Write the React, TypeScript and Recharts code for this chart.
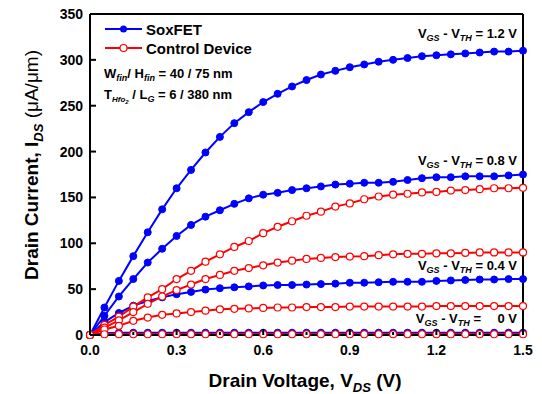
import React from "react";
import { LineChart, Line, XAxis, YAxis, ReferenceLine } from "recharts";

// drain voltage steps (V)
const vds = [
  0, 0.05, 0.1, 0.15, 0.2, 0.25, 0.3, 0.35, 0.4, 0.45, 0.5, 0.55, 0.6, 0.65, 0.7, 0.75,
  0.8, 0.85, 0.9, 0.95, 1.0, 1.05, 1.1, 1.15, 1.2, 1.25, 1.3, 1.35, 1.4, 1.45, 1.5,
];

// SoxFET drain current (uA/um)
const sox12 = [0, 30, 59, 86, 112, 137, 160, 180, 199, 216, 231, 243, 254, 263, 271, 278, 284, 288, 292, 295, 298, 300, 302, 304, 305, 306, 307, 308, 309, 309, 310];
const sox08 = [0, 21, 42, 61, 79, 94, 108, 120, 129, 136, 143, 149, 153, 155, 158, 160, 162, 164, 165, 166, 166, 167, 169, 171, 172, 172, 173, 173, 173, 174, 175];
const sox04 = [0, 14, 24, 32, 37, 41, 44.5, 47, 49.5, 51, 52, 53, 54, 54.5, 54.5, 55, 55.5, 56, 57, 57, 57.5, 58, 58, 58, 59, 59.5, 60, 60.5, 60.5, 61, 61];
const sox00 = [0, 2, 2.5, 2.5, 2.5, 2.5, 2.5, 2.5, 2.5, 2.5, 2.5, 2.5, 2.5, 2.5, 2.5, 2.5, 2.5, 2.5, 2.5, 2.5, 2.5, 2.5, 2.5, 2.5, 2.5, 2.5, 2.5, 2.5, 2.5, 2.5, 2.5];

// control device drain current (uA/um)
const ctl12 = [0, 11, 20, 31, 41, 50, 61, 70, 80, 88, 96, 102.5, 111, 118, 124, 130, 134.5, 140, 143.5, 148, 151, 153, 154, 155.5, 156, 157.5, 158, 159, 160, 160, 160.5];
const ctl08 = [0, 8, 16, 25, 34, 42, 49, 55, 61, 65.5, 70, 73, 76, 79, 81, 83, 84, 85, 85.5, 86, 87, 88, 88.5, 88.5, 89, 89, 89.5, 90, 90, 90, 90];
const ctl04 = [0, 6, 10, 15.5, 19, 22, 23.5, 25, 26.5, 28, 28.5, 29, 29.5, 30, 30, 30.5, 30.5, 30.5, 31, 31, 31, 31, 31, 31, 31.5, 31.5, 31.5, 31.5, 31.5, 31.5, 31.5];
const ctl00 = [0, 0.8, 0.8, 0.8, 0.8, 0.8, 0.8, 0.8, 0.8, 0.8, 0.8, 0.8, 0.8, 0.8, 0.8, 0.8, 0.8, 0.8, 0.8, 0.8, 0.8, 0.8, 0.8, 0.8, 0.8, 0.8, 0.8, 0.8, 0.8, 0.8, 0.8];

const xTicks = [0, 0.15, 0.3, 0.45, 0.6, 0.75, 0.9, 1.05, 1.2, 1.35, 1.5];
const xMajor = [0, 0.3, 0.6, 0.9, 1.2, 1.5];
const yTicks = [0, 25, 50, 75, 100, 125, 150, 175, 200, 225, 250, 275, 300, 325, 350];
const yMajor = [0, 50, 100, 150, 200, 250, 300, 350];

const data = vds.map((v, i) => ({
  v,
  sox12: sox12[i],
  sox08: sox08[i],
  sox04: sox04[i],
  sox00: sox00[i],
  ctl12: ctl12[i],
  ctl08: ctl08[i],
  ctl04: ctl04[i],
  ctl00: ctl00[i],
}));

const FONT = '"Liberation Sans", Arial, sans-serif';
const BLUE = "#0000ff";
const RED = "#ff0000";

const XTick = (props: any) => {
  const { x, y, payload } = props;
  const major = xMajor.some((m) => Math.abs(m - payload.value) < 1e-6);
  const ay = y - 7;
  return (
    <g>
      <line x1={x} x2={x} y1={ay} y2={ay - (major ? 6 : 3)} stroke="#000" strokeWidth={2} />
      {major && (
        <text x={x} y={y} dy={13} textAnchor="middle" fontFamily={FONT} fontWeight="bold" fontSize={14} fill="#000">
          {payload.value.toFixed(1)}
        </text>
      )}
    </g>
  );
};

const YTick = (props: any) => {
  const { x, y, payload } = props;
  const major = yMajor.includes(payload.value);
  const ax = x + 7;
  return (
    <g>
      <line x1={ax} x2={ax + (major ? 6 : 3)} y1={y} y2={y} stroke="#000" strokeWidth={2} />
      {major && (
        <text x={x} y={y} dy={5} textAnchor="end" fontFamily={FONT} fontWeight="bold" fontSize={14} fill="#000">
          {payload.value}
        </text>
      )}
    </g>
  );
};

const blueDot = { r: 3.5, fill: BLUE, stroke: BLUE, strokeWidth: 1 };
const redDot = { r: 3.5, fill: "#fff", stroke: RED, strokeWidth: 1.2 };

const VLabel = ({ x, y, value }: { x: number; y: number; value: string }) => (
  <text x={x} y={y} textAnchor="end" fontFamily={FONT} fontWeight="bold" fontSize={13} fill="#000">
    V<tspan fontSize={9} fontStyle="italic" dy={3}>GS</tspan>
    <tspan dy={-3}> - V</tspan>
    <tspan fontSize={9} fontStyle="italic" dy={3}>TH</tspan>
    <tspan dy={-3}>{value}</tspan>
  </text>
);

export default function App() {
  return (
    <div style={{ position: "absolute", left: 0, top: 0, width: 542, height: 394, background: "#fff" }}>
      <LineChart width={542} height={394} data={data} margin={{ top: 14, right: 19, bottom: 0, left: 0 }}>
        <XAxis
          dataKey="v"
          type="number"
          domain={[0, 1.5]}
          ticks={xTicks}
          height={59}
          tickSize={0}
          tickMargin={7}
          tickLine={false}
          axisLine={{ stroke: "#000", strokeWidth: 2 }}
          tick={(p: any) => <XTick {...p} />}
        />
        <YAxis
          type="number"
          domain={[0, 350]}
          ticks={yTicks}
          width={90}
          tickSize={0}
          tickMargin={7}
          tickLine={false}
          axisLine={{ stroke: "#000", strokeWidth: 2 }}
          tick={(p: any) => <YTick {...p} />}
        />
        <ReferenceLine y={350} stroke="#000" strokeWidth={2} />
        <ReferenceLine x={1.5} stroke="#000" strokeWidth={2} />
        <Line dataKey="sox12" stroke={BLUE} strokeWidth={2} dot={blueDot} isAnimationActive={false} />
        <Line dataKey="sox08" stroke={BLUE} strokeWidth={2} dot={blueDot} isAnimationActive={false} />
        <Line dataKey="sox04" stroke={BLUE} strokeWidth={2} dot={blueDot} isAnimationActive={false} />
        <Line dataKey="sox00" stroke={BLUE} strokeWidth={2} dot={blueDot} isAnimationActive={false} />
        <Line dataKey="ctl12" stroke={RED} strokeWidth={2} dot={redDot} isAnimationActive={false} />
        <Line dataKey="ctl08" stroke={RED} strokeWidth={2} dot={redDot} isAnimationActive={false} />
        <Line dataKey="ctl04" stroke={RED} strokeWidth={2} dot={redDot} isAnimationActive={false} />
        <Line dataKey="ctl00" stroke={RED} strokeWidth={2.5} dot={redDot} isAnimationActive={false} />
      </LineChart>
      <svg width={542} height={394} style={{ position: "absolute", left: 0, top: 0, pointerEvents: "none" }}>
        {/* legend */}
        <line x1={105} x2={142} y1={29} y2={29} stroke={BLUE} strokeWidth={2} />
        <circle cx={123.5} cy={29} r={3.5} fill={BLUE} />
        <text x={146} y={35} fontFamily={FONT} fontWeight="bold" fontSize={15} fill="#000">SoxFET</text>
        <line x1={105} x2={142} y1={48} y2={48} stroke={RED} strokeWidth={2} />
        <circle cx={123.5} cy={48} r={3.5} fill="#fff" stroke={RED} strokeWidth={1.2} />
        <text x={146} y={54} fontFamily={FONT} fontWeight="bold" fontSize={15} fill="#000">Control Device</text>

        {/* device parameters */}
        <text x={104} y={78} fontFamily={FONT} fontWeight="bold" fontSize={13} fill="#000">
          W<tspan fontSize={9} fontStyle="italic" dy={3}>fin</tspan>
          <tspan dy={-3}>/ H</tspan>
          <tspan fontSize={9} fontStyle="italic" dy={3}>fin</tspan>
          <tspan dy={-3}> = 40 / 75 nm</tspan>
        </text>
        <text x={104} y={99} fontFamily={FONT} fontWeight="bold" fontSize={13} fill="#000">
          T<tspan fontSize={8} fontStyle="italic" dy={3}>Hfo</tspan>
          <tspan fontSize={6} fontStyle="italic" dy={2}>2</tspan>
          <tspan dy={-5}> / L</tspan>
          <tspan fontSize={9} fontStyle="italic" dy={3}>G</tspan>
          <tspan dy={-3}> = 6 / 380 nm</tspan>
        </text>

        {/* gate overdrive labels */}
        <VLabel x={517} y={38} value=" = 1.2 V" />
        <VLabel x={517} y={165} value=" = 0.8 V" />
        <VLabel x={517} y={270} value=" = 0.4 V" />
        <VLabel x={481} y={323} value=" =" />
        <text x={517} y={323} textAnchor="end" fontFamily={FONT} fontWeight="bold" fontSize={13} fill="#000">0 V</text>

        {/* axis titles */}
        <text x={305} y={387} textAnchor="middle" fontFamily={FONT} fontWeight="bold" fontSize={19} fill="#000">
          Drain Voltage, V<tspan fontSize={13} fontStyle="italic" dy={5}>DS</tspan>
          <tspan dy={-5}> (V)</tspan>
        </text>
        <text x={38} y={165} transform="rotate(-90 38 165)" textAnchor="middle" fontFamily={FONT} fontWeight="bold" fontSize={19} fill="#000">
          Drain Current, I<tspan fontSize={13} fontStyle="italic" dy={5}>DS</tspan>
          <tspan dy={-5} fontWeight="normal"> (μA/μm)</tspan>
        </text>
      </svg>
    </div>
  );
}
